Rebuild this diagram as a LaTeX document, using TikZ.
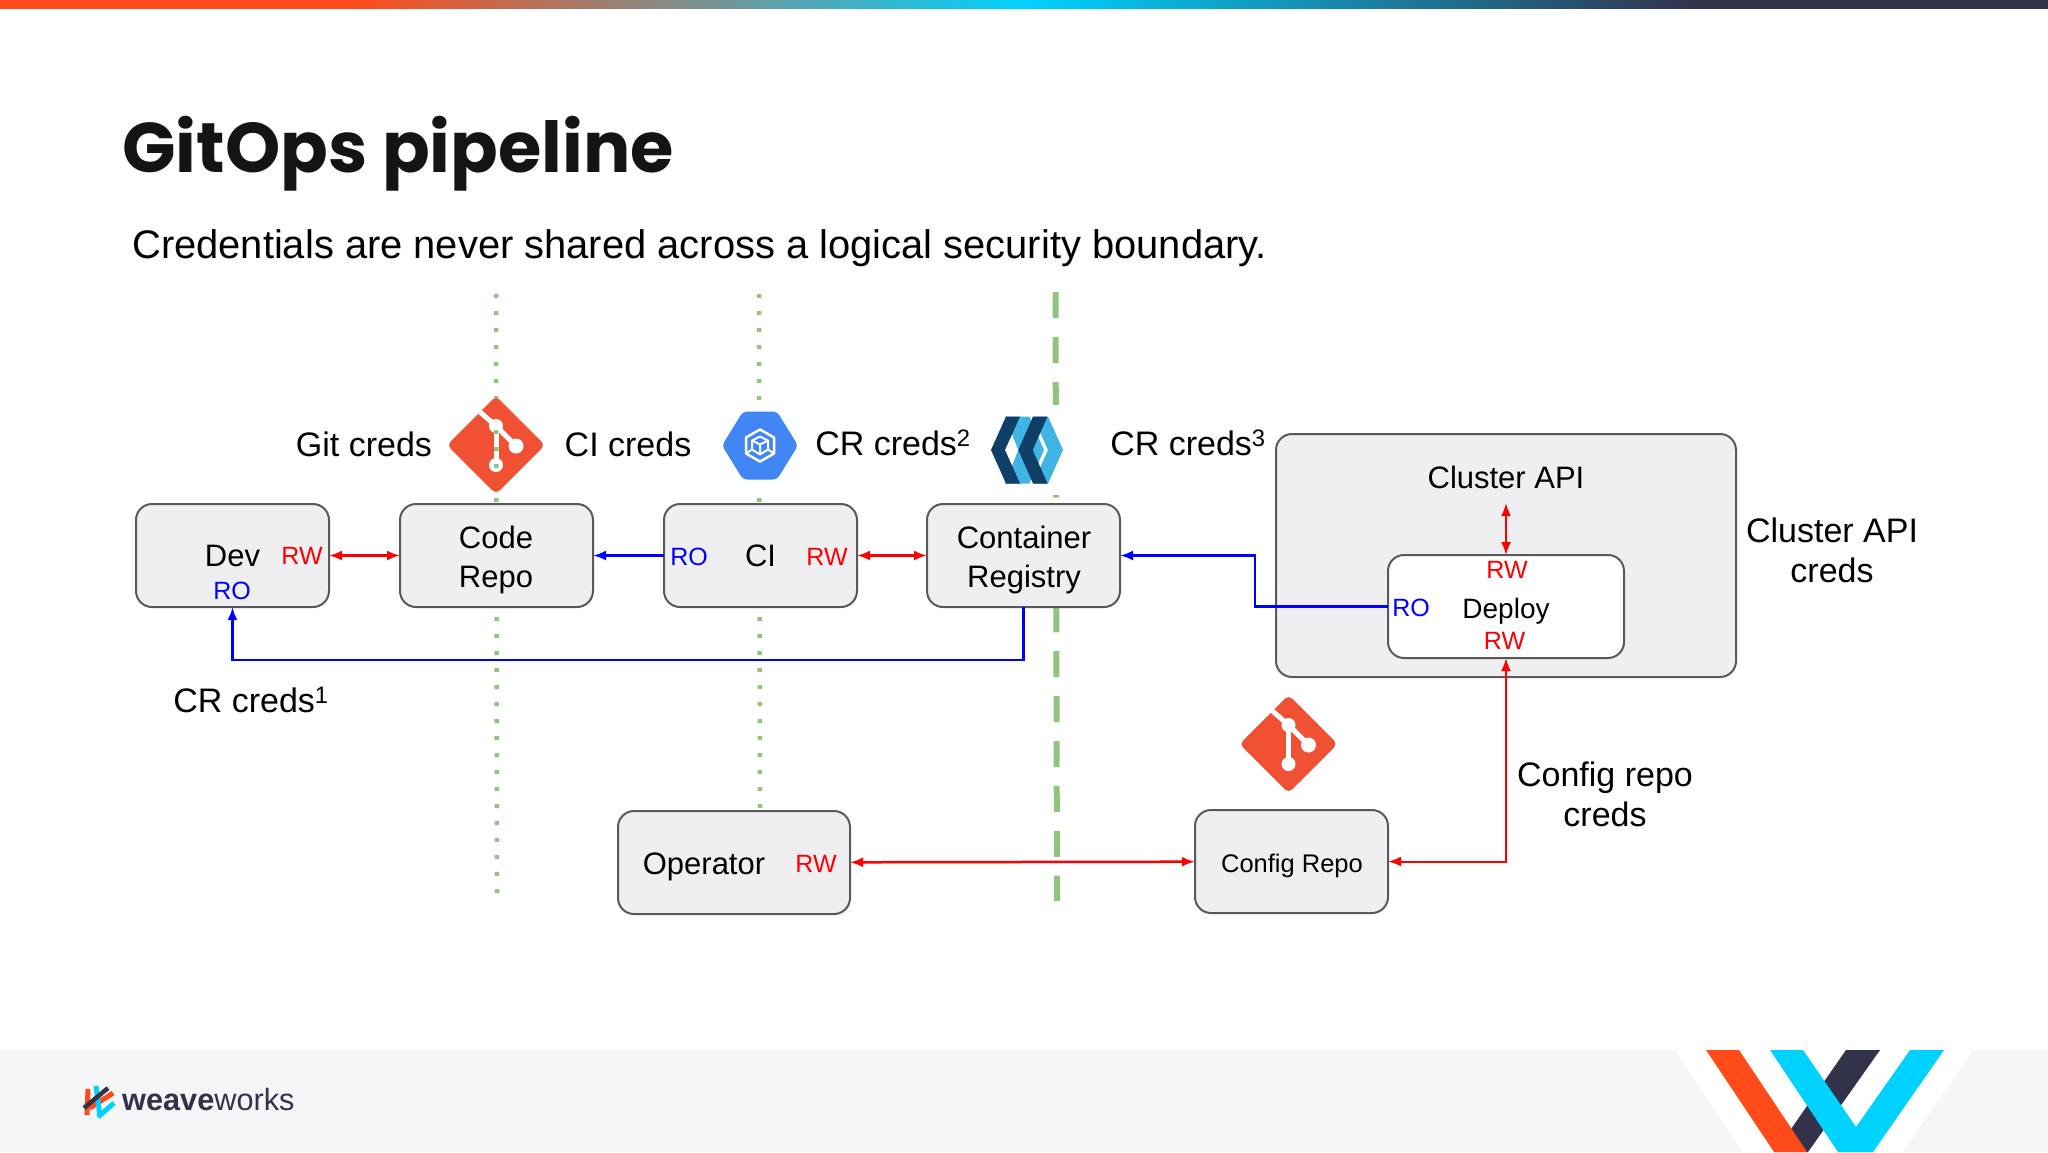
\documentclass[tikz,border=0pt]{standalone}
\usepackage{fontspec}
\setmainfont{Liberation Sans}
\newfontfamily\titlefont{Poppins}
\usetikzlibrary{positioning,arrows.meta}

\definecolor{boxgrey}{HTML}{EFEEF0}
\definecolor{edgegrey}{HTML}{595959}
\definecolor{sepgreen}{HTML}{93C47D}
\definecolor{gitred}{HTML}{F05133}
\definecolor{gcpblue}{HTML}{4285F4}
\definecolor{quaydark}{HTML}{0F3F66}
\definecolor{quaylight}{HTML}{40B4E5}
\definecolor{wworange}{HTML}{FF4B19}
\definecolor{wwcyan}{HTML}{00D2FF}
\definecolor{wwdark}{HTML}{32324B}
\definecolor{bandgrey}{HTML}{F6F5F8}

\pgfdeclarehorizontalshading{topbar}{100bp}{color(0bp)=(wworange); color(33.5bp)=(wworange); color(50bp)=(wwcyan); color(66.5bp)=(wwdark); color(100bp)=(wwdark)}

\newcommand{\fsz}[2]{\fontsize{#1}{#2}\selectfont}

\tikzset{
    box/.style={draw=edgegrey, line width=2pt, fill=boxgrey, rounded corners=16pt, inner sep=0pt, outer sep=0pt, minimum width=193pt, minimum height=103pt, align=center, font=\fsz{31}{39}},
    lbl/.style={inner sep=0pt, align=center, font=\fsz{34}{40}},
    rw/.style={inner sep=0pt, text=red, font=\fsz{25}{25}},
    ro/.style={inner sep=0pt, text=blue, font=\fsz{25}{25}},
    sepdot/.style={draw=sepgreen, line width=4.5pt, dash pattern=on 4pt off 13pt},
    sepdash/.style={draw=sepgreen, line width=6pt, dash pattern=on 26pt off 18.9pt},
    redline/.style={draw=red, line width=2.5pt, <->},
    blueline/.style={draw=blue, line width=2.5pt, ->},
    gitlogo/.pic={
        \fill[gitred, rounded corners=5pt] (0,-49) -- (49,0) -- (0,49) -- (-49,0) -- cycle;
        \draw[white, line width=5pt] (-16,-33) -- (0,-19) -- (20,1);
        \draw[white, line width=5pt] (0,-19) -- (0,20);
        \fill[white] (0,-19) circle (7) (20,1) circle (7.5) (0,20) circle (7);
    },
    gcplogo/.pic={
        \fill[white] (-37,-45) rectangle (37,45);
        \fill[gcpblue, rounded corners=4pt] (-38,0) -- (-17,-34) -- (17,-34) -- (38,0) -- (17,34) -- (-17,34) -- cycle;
        \draw[white, line width=2.5pt, line join=round] (0,-16) -- (14,-8) -- (14,8) -- (0,16) -- (-14,8) -- (-14,-8) -- cycle;
        \draw[white, line width=2pt, line join=round] (0,-9) -- (8,-5) -- (8,4) -- (0,9) -- (-8,4) -- (-8,-5) -- cycle;
        \draw[white, line width=2pt] (-8,-5) -- (0,-1) -- (8,-5) (0,-1) -- (0,9) (-14,8) -- (-8,4) (14,8) -- (8,4);
    },
    quaylogo/.pic={
        \fill[white] (-37,-45) rectangle (37,45);
        \fill[quaylight] (-22,-33.5) -- (2.3,-33.5) -- (17,0) -- (2.3,33.5) -- (-22,33.5) -- (-8.7,0) -- cycle;
        \fill[quaylight] (6,-33.5) -- (21,-33.5) -- (36,0) -- (21,33.5) -- (6,33.5) -- (21,0) -- cycle;
        \fill[quaydark] (-36,0) -- (-21,-33.5) -- (-7,-33.5) -- (-22,0) -- (-7,33.5) -- (-21,33.5) -- cycle;
        \fill[quaydark] (-8.7,0) -- (6,-33.5) -- (20.5,-33.5) -- (5.7,0) -- (20.5,33.5) -- (6,33.5) -- cycle;
    },
}

\begin{document}
\begin{tikzpicture}[x=1pt, y=-1pt, >={Latex[length=13pt,width=10pt]}]
    \useasboundingbox (0,0) rectangle (2048,1152);

    % slide frame
    \shade[shading=topbar] (0,0) rectangle (2048,8.5);
    \fill[bandgrey] (0,1050) rectangle (2048,1152);

    % big logo
    \fill[white] (1675,1050) -- (1973,1050) -- (1903,1152) -- (1743,1152) -- cycle;
    \fill[wwdark] (1846,1050) -- (1880,1050) -- (1808,1152) -- (1775,1152) -- cycle;
    \fill[wworange] (1706,1050) -- (1739,1050) -- (1807,1152) -- (1774,1152) -- cycle;
    \fill[wwcyan] (1770,1050) -- (1803,1050) -- (1856,1127) -- (1910,1050) -- (1944,1050) -- (1873,1152) -- (1838,1152) -- cycle;

    % small logo
    \draw[wworange, line width=5pt] (88,1089) -- (87,1115);
    \draw[wworange, line width=5pt] (113,1093) -- (90,1108);
    \draw[wwcyan, line width=5pt] (96,1086) -- (100,1117);
    \draw[wwcyan, line width=5pt] (114,1103) -- (98,1117);
    \draw[wwdark, line width=4.5pt] (108,1088) -- (84,1108);
    \node[anchor=base west, inner sep=0pt, text=wwdark] (ww_name) at (122,1110)
        {\fsz{30.7}{31}\textbf{weave}works};

    % titles
    \node[anchor=base west, inner sep=0pt, text=black!92] (title) at (122,172)
        {\titlefont\fsz{70.3}{70}\textbf{GitOps pipeline}};
    \node[anchor=base west, inner sep=0pt] (subtitle) at (132,258.5)
        {\fsz{39.9}{40}Credentials are never shared across a logical security boundary.};

    % trust boundaries
    \draw[sepdot] (496,294) -- (497,893);
    \draw[sepdot] (759,294) -- (760,810);
    \draw[sepdash] (1055.5,292) -- (1057,901);

    % icons
    \pic (git_code) at (496,445) {gitlogo};
    \begin{scope}
        \clip (480,425) rectangle (512,475);
        \draw[sepdot] (496,294) -- (497,893);
    \end{scope}
    \pic (gcp_ci) at (760,445.5) {gcplogo};
    \pic (quay_cr) at (1027,450) {quaylogo};
    \pic (git_cfg) at (1288.5,744) {gitlogo};

    % define nodes
    \node[box] (dev) at (232.5,555.5) {Dev};
    \node[box, right=71pt of dev] (code) {};
    \node[box, right=71pt of code] (ci) {CI};
    \node[box, right=70pt of ci] (cr) {};

    \node[box, minimum width=460pt, minimum height=243pt] (capi) at (1506,555.5) {};
    \node[box, fill=white, minimum width=236pt, minimum height=103pt] (deploy) at (1506,606.5) {};
    \node[box, minimum width=232pt] (op) at (734,862.5) {};
    \node[box] (cfg) at (1291.5,861.5) {};

    % box texts
    \node[lbl, font=\fsz{31}{39}] (code_text) at (496,559.5) {Code\\Repo};
    \node[lbl, font=\fsz{31}{39}] (cr_text) at (1024,559.5) {Container\\Registry};
    \node[lbl, font=\fsz{31}{39}] (capi_text) at (1506,477) {Cluster API};
    \node[lbl, font=\fsz{28}{34}] (deploy_text) at (1506,611) {Deploy};
    \node[lbl, font=\fsz{31}{39}] (op_text) at (704,867) {Operator};
    \node[lbl, font=\fsz{25.5}{30}] (cfg_text) at (1292,866) {Config Repo};

    % access labels
    \node[rw] (dev_rw) at (302,556.3) {RW};
    \node[ro] (dev_ro) at (232,591.3) {RO};
    \node[ro] (ci_ro) at (689,557.3) {RO};
    \node[rw] (ci_rw) at (827,557.3) {RW};
    \node[rw] (deploy_rw_a) at (1507,570.3) {RW};
    \node[ro] (deploy_ro) at (1411,608.3) {RO};
    \node[rw] (deploy_rw_b) at (1504.5,641) {RW};
    \node[rw] (op_rw) at (816,864.3) {RW};

    % credential labels
    \node[lbl] (git_creds) at (364,444) {Git creds};
    \node[lbl] (ci_creds) at (628,444) {CI creds};
    \node[lbl] (cr_creds_b) at (893,443.3) {CR creds\textsuperscript{2}};
    \node[lbl] (cr_creds_c) at (1188,443.3) {CR creds\textsuperscript{3}};
    \node[lbl] (cr_creds_a) at (251,700.3) {CR creds\textsuperscript{1}};
    \node[lbl] (capi_creds) at (1832,550) {Cluster API\\creds};
    \node[lbl] (cfg_creds) at (1605,794) {Config repo\\creds};

    \coordinate (capi_tip) at (1506,503);

    % connect the nodes
    \draw[redline] (dev) -- (code);
    \draw[blueline] (ci) -- (code);
    \draw[redline] (ci) -- (cr);
    \draw[blueline] (deploy.west) -- ++(-133,0) |- (cr.east);
    \draw[blueline] (cr.south) -- ++(0,53) -| (dev.south);
    \draw[redline, line width=2pt] (capi_tip) -- (deploy.north);
    \draw[redline] (op) -- (cfg);
    \draw[redline, line width=2pt] (cfg.east) -| (deploy.south);

\end{tikzpicture}
\end{document}
